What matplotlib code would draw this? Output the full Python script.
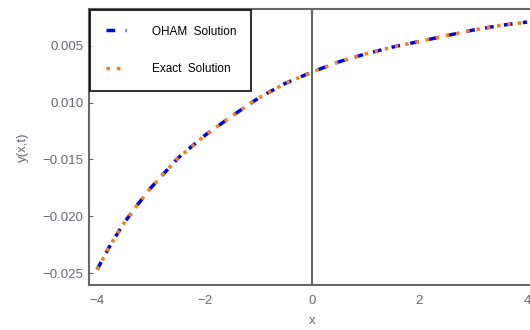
#OHAM solution vs exact solution for y(x,t)
import matplotlib
matplotlib.use('Agg')
import matplotlib.pyplot as plt
from matplotlib.ticker import FixedLocator, FixedFormatter

plt.rcParams['font.family'] = ['Liberation Sans', 'DejaVu Sans']

#points
x_vals = [-4.0, -3.75, -3.5, -3.25, -3.0, -2.5, -2.0, -1.5, -1.0, -0.5, 0.0, 0.5, 1.0, 1.5, 2.0, 2.5, 3.0, 3.5, 4.0]
oham_y = [-0.0247, -0.0225, -0.0206, -0.0190, -0.0175, -0.0149, -0.0129, -0.0112, -0.0096, -0.0083, -0.0073,
          -0.0064, -0.0057, -0.0051, -0.0046, -0.0041, -0.0036, -0.0032, -0.0029]
exact_y = list(oham_y)

y_ticks = [-0.005, -0.010, -0.015, -0.020, -0.025]
y_tick_labels = ['0.005', '0.010', '\u22120.015', '\u22120.020', '\u22120.025']
x_ticks = [-4, -2, 0, 2, 4]
x_tick_labels = ['\u22124', '\u22122', '0', '2', '4']

fig = plt.figure(figsize=(5.3, 3.3), dpi=100)
ax = fig.add_axes([89/530, 45/330, 446/530, 276/330])

ax.plot(x_vals, oham_y, color='blue', linestyle=(0, (2.5, 3)), linewidth=2.5, label='OHAM  Solution')
ax.plot(x_vals, exact_y, color='#ff7f0e', linestyle=(0, (1, 2)), linewidth=2.5, label='Exact  Solution')
ax.axvline(0, color='#666666', linewidth=1.5)

ax.set_xlim(-4.15, 4.15)
ax.set_ylim(-0.02605, -0.00175)
ax.yaxis.set_major_locator(FixedLocator(y_ticks))
ax.yaxis.set_major_formatter(FixedFormatter(y_tick_labels))
ax.xaxis.set_major_locator(FixedLocator(x_ticks))
ax.xaxis.set_major_formatter(FixedFormatter(x_tick_labels))

for s in ax.spines.values():
    s.set_color('#666666')
    s.set_linewidth(1.5)
ax.tick_params(axis='y', direction='in', length=3, color='#666666', labelcolor='#666677', labelsize=9.5, pad=4)
ax.tick_params(axis='x', length=0, labelcolor='#666677', labelsize=9.5, pad=7)

ax.set_xlabel('x', color='#666677', fontsize=9.5, labelpad=6)
ax.set_ylabel('y(x,t)', color='#666677', fontsize=9.5, labelpad=10)

leg = ax.legend(loc='upper left', fontsize=8.5, frameon=True, fancybox=False,
                labelspacing=2.2, handlelength=1.7, handletextpad=2.2,
                borderpad=1.3, borderaxespad=0.1)
leg.get_frame().set_edgecolor('black')
leg.get_frame().set_linewidth(1.5)

fig.savefig('out.png', dpi=100)
